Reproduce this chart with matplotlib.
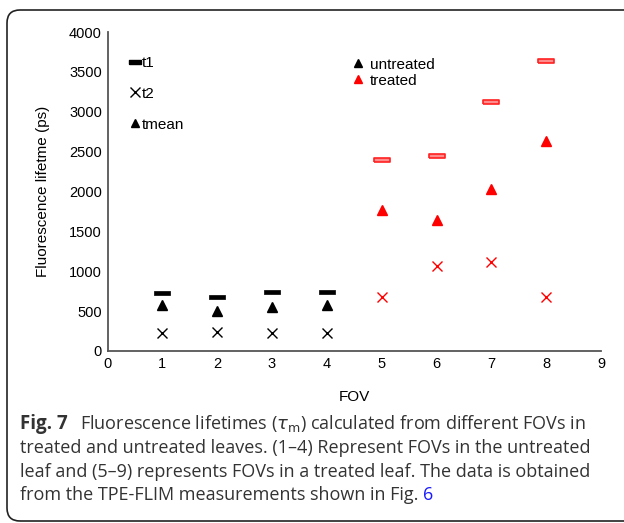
import numpy as np
import matplotlib.pyplot as plt
from matplotlib.patches import FancyBboxPatch
from matplotlib.lines import Line2D

# values (ps)
fov_untreated = [1, 2, 3, 4]
fov_treated = [5, 6, 7, 8]
t1_untreated = [732, 678, 740, 740]
t2_untreated = [226, 234, 226, 226]
tmean_untreated = [577, 506, 556, 577]
t1_treated = [2397, 2448, 3117, 3632]
t2_treated = [674, 1067, 1113, 674]
tmean_treated = [1774, 1648, 2033, 2628]

x_ticks = list(range(0, 10))
y_ticks = list(range(0, 4001, 500))

plt.rcParams['font.family'] = ['Liberation Sans', 'DejaVu Sans']

fig = plt.figure(figsize=(6.24, 5.23), dpi=100)
ax = fig.add_axes([107.5 / 624, 1 - 351 / 523, (601 - 107.5) / 624, (351 - 32) / 523])

# flat rectangle marker for t1
rect = [(-1, -0.28), (1, -0.28), (1, 0.28), (-1, 0.28), (-1, -0.28)]

ax.plot(fov_untreated, t1_untreated, ls='none', marker=rect, ms=12,
        mfc='black', mec='black', mew=0.5)
ax.plot(fov_untreated, tmean_untreated, ls='none', marker='^', ms=7,
        mfc='black', mec='black')
ax.plot(fov_untreated, t2_untreated, ls='none', marker='x', ms=7,
        mec='black', mew=1.0)

ax.plot(fov_treated, t1_treated, ls='none', marker=rect, ms=12,
        mfc='#ff8c8c', mec='#ff2020', mew=1.2)
ax.plot(fov_treated, tmean_treated, ls='none', marker='^', ms=7,
        mfc='red', mec='red')
ax.plot(fov_treated, t2_treated, ls='none', marker='x', ms=7,
        mec='red', mew=1.0)

ax.set_xlim(0, 9)
ax.set_ylim(0, 4000)
ax.set_xticks(x_ticks)
ax.set_yticks(y_ticks)
ax.tick_params(length=0, labelsize=10.5, pad=4)
for s in ['top', 'right']:
    ax.spines[s].set_visible(False)
for s in ['left', 'bottom']:
    ax.spines[s].set_color('#555555')
    ax.spines[s].set_linewidth(1.3)

ax.set_xlabel('FOV', fontsize=11, labelpad=14)
ax.set_ylabel('Fluorescence lifetme (ps)', fontsize=11, labelpad=14)

# legend for the lifetimes
h1 = [Line2D([], [], ls='none', marker=rect, ms=8, mfc='black', mec='black'),
      Line2D([], [], ls='none', marker='x', ms=7, mec='black', mew=1.0),
      Line2D([], [], ls='none', marker='^', ms=6, mfc='black', mec='black')]
leg1 = ax.legend(h1, ['t1', 't2', 'tmean'], loc='upper left',
                 bbox_to_anchor=(0.045, 0.925), frameon=False, fontsize=11,
                 handlelength=0.7, handletextpad=0.1, labelspacing=1.1,
                 borderpad=0, borderaxespad=0)
ax.add_artist(leg1)

# legend for the leaf type
h2 = [Line2D([], [], ls='none', marker='^', ms=6, mfc='black', mec='black'),
      Line2D([], [], ls='none', marker='^', ms=6, mfc='red', mec='red')]
ax.legend(h2, ['untreated', 'treated'], loc='upper left',
          bbox_to_anchor=(0.495, 0.92), frameon=False, fontsize=11,
          handlelength=0.8, handletextpad=0.4, labelspacing=0.15,
          borderpad=0, borderaxespad=0)

# rounded frame around the figure
box = FancyBboxPatch((0.07, 0.02), 6.6, 5.11,
                     boxstyle='round,pad=0,rounding_size=0.13',
                     transform=fig.dpi_scale_trans, fill=False,
                     ec='#222222', lw=1.2, clip_on=False)
fig.patches.append(box)

# caption
cap = dict(fontsize=13, color='#333333', family=['Open Sans', 'DejaVu Sans'],
           va='baseline', ha='left')
fig.text(20 / 624, 1 - 429 / 523, 'Fig. 7', fontweight='bold', fontsize=13.5,
         color='#333333', family=['Open Sans', 'DejaVu Sans'], va='baseline')
fig.text(80 / 624, 1 - 429 / 523,
         r'Fluorescence lifetimes ($\tau_\mathrm{m}$) calculated from different FOVs in', **cap)
fig.text(20 / 624, 1 - 453 / 523,
         'treated and untreated leaves. (1\u20134) Represent FOVs in the untreated', **cap)
fig.text(20 / 624, 1 - 477 / 523,
         'leaf and (5\u20139) represents FOVs in a treated leaf. The data is obtained', **cap)
last = fig.text(20 / 624, 1 - 500 / 523,
                'from the TPE-FLIM measurements shown in Fig.', **cap)
ref = dict(cap)
ref['color'] = '#1a1aff'
ref['va'] = 'bottom'
ax.annotate('6', xy=(1, 0), xycoords=last, xytext=(3, 0),
            textcoords='offset points', annotation_clip=False, **ref)

fig.savefig('out.png', dpi=100)
